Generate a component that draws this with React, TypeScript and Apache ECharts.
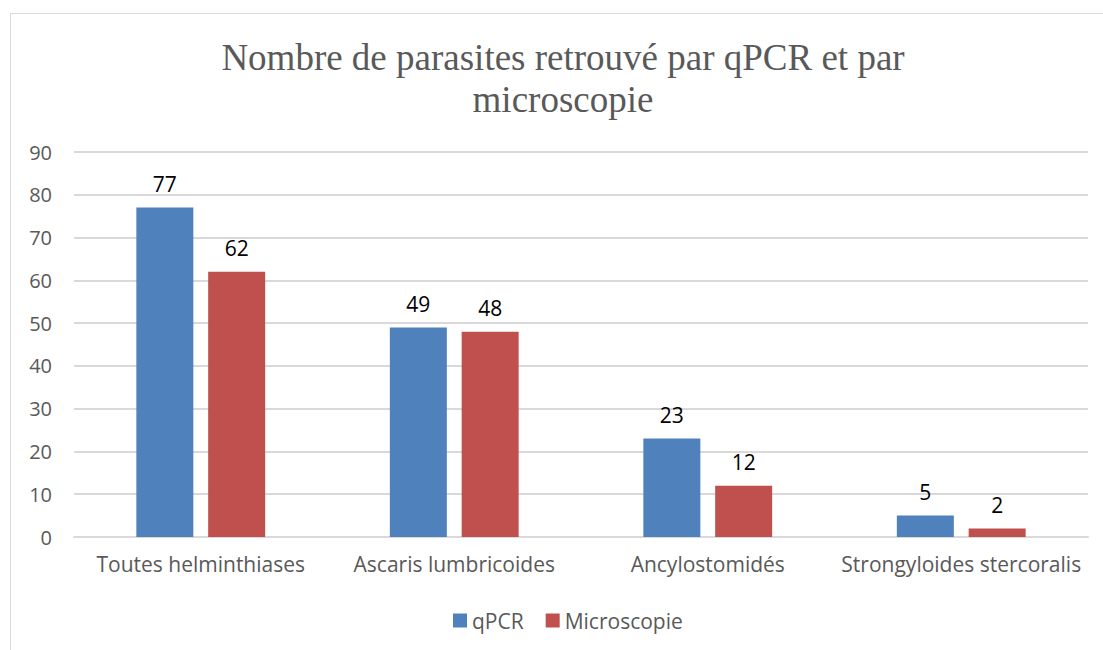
import React, { useEffect, useRef } from "react";
import * as echarts from "echarts";

const categories = [
  "Toutes helminthiases",
  "Ascaris lumbricoides",
  "Ancylostomidés",
  "Strongyloides stercoralis",
];
const qpcrValues = [77, 49, 23, 5];
const microValues = [62, 48, 12, 2];
const titleLines = ["Nombre de parasites retrouvé par qPCR et par", "microscopie"];

export default function App() {
  const ref = useRef<HTMLDivElement>(null);
  useEffect(() => {
    if (!ref.current) return;
    const chart = echarts.init(ref.current, undefined, { renderer: "svg" });
    const labelFont = "'Open Sans', 'Noto Sans', sans-serif";
    chart.setOption({
      animation: false,
      backgroundColor: "#ffffff",
      graphic: [
        {
          type: "rect",
          shape: { x: 10.5, y: 13.5, width: 1200, height: 700 },
          style: { fill: "none", stroke: "#d9d9d9", lineWidth: 1 },
          silent: true,
        },
        {
          type: "text",
          x: 563,
          y: 36,
          style: {
            text: titleLines.join("\n"),
            fill: "#595959",
            font: "37px 'Liberation Serif', serif",
            textAlign: "center",
            lineHeight: 42,
          },
        },
      ],
      legend: {
        data: ["qPCR", "Microscopie"],
        left: 448,
        top: 605,
        itemWidth: 14,
        itemHeight: 14,
        itemGap: 22,
        icon: "rect",
        textStyle: { color: "#595959", fontSize: 21, fontFamily: labelFont },
      },
      grid: { left: 74, right: 15, top: 152, bottom: 113, containLabel: false },
      xAxis: {
        type: "category",
        data: categories,
        axisLine: { lineStyle: { color: "#d9d9d9", width: 2 } },
        axisTick: { show: false },
        axisLabel: {
          color: "#595959",
          fontSize: 21,
          fontFamily: labelFont,
          margin: 16,
          interval: 0,
        },
      },
      yAxis: {
        type: "value",
        min: 0,
        max: 90,
        interval: 10,
        axisLine: { show: false },
        axisTick: { show: false },
        splitLine: { lineStyle: { color: "#d9d9d9", width: 2 } },
        axisLabel: { color: "#595959", fontSize: 20, fontFamily: labelFont, margin: 22 },
      },
      series: [
        {
          name: "qPCR",
          type: "bar",
          data: qpcrValues,
          barWidth: 57,
          barGap: "26%",
          itemStyle: { color: "#4f81bd" },
          label: {
            show: true,
            position: "top",
            distance: 13,
            color: "#000000",
            fontSize: 21,
            fontFamily: labelFont,
          },
        },
        {
          name: "Microscopie",
          type: "bar",
          data: microValues,
          barWidth: 57,
          itemStyle: { color: "#c0504d" },
          label: {
            show: true,
            position: "top",
            distance: 13,
            color: "#000000",
            fontSize: 21,
            fontFamily: labelFont,
          },
        },
      ],
    });
    return () => chart.dispose();
  }, []);
  return (
    <div
      ref={ref}
      style={{ position: "absolute", left: 0, top: 0, width: 1103, height: 650 }}
    />
  );
}
